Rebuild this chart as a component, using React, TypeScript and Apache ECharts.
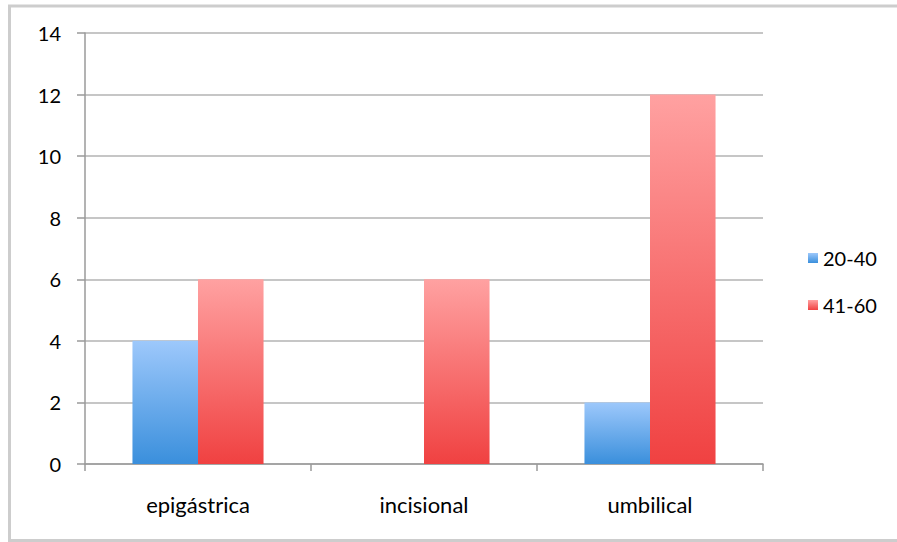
import React, { useEffect, useRef } from "react";
import * as echarts from "echarts";

const categories = ["epigástrica", "incisional", "umbilical"];
const seriesNames = ["20-40", "41-60"];
const values2040 = [4, 0, 2];
const values4160 = [6, 6, 12];
const yTicks = { min: 0, max: 14, interval: 2 };

const FONT = "Lato, 'Open Sans', sans-serif";

export default function App() {
  const ref = useRef<HTMLDivElement>(null);
  useEffect(() => {
    if (!ref.current) return;
    const chart = echarts.init(ref.current, undefined, { renderer: "svg" });
    const blue = new echarts.graphic.LinearGradient(0, 0, 0, 1, [
      { offset: 0, color: "#9dc8fb" },
      { offset: 1, color: "#3a8fdc" },
    ]);
    const red = new echarts.graphic.LinearGradient(0, 0, 0, 1, [
      { offset: 0, color: "#ffa1a1" },
      { offset: 1, color: "#f04141" },
    ]);
    chart.setOption({
      animation: false,
      backgroundColor: "#ffffff",
      textStyle: { fontFamily: FONT },
      graphic: [
        {
          type: "rect",
          shape: { x: 9.5, y: 6, width: 900, height: 534.5 },
          style: { fill: "none", stroke: "#cdcdcd", lineWidth: 3 },
          silent: true,
        },
      ],
      grid: { left: 85, right: 134, top: 33, bottom: 78 },
      legend: {
        orient: "vertical",
        left: 803,
        top: 243,
        itemWidth: 10,
        itemHeight: 10,
        itemGap: 27,
        icon: "rect",
        data: seriesNames,
        textStyle: { fontSize: 20, color: "#000", fontFamily: FONT, padding: [0, 0, 0, 0] },
      },
      xAxis: {
        type: "category",
        data: categories,
        axisLine: { lineStyle: { color: "#9a9a9a", width: 1.5 } },
        axisTick: { show: true, length: 7, lineStyle: { color: "#9a9a9a", width: 1.5 } },
        axisLabel: { fontSize: 22, color: "#000", margin: 29, fontFamily: FONT },
        splitLine: { show: false },
      },
      yAxis: {
        type: "value",
        min: yTicks.min,
        max: yTicks.max,
        interval: yTicks.interval,
        axisLine: { show: true, lineStyle: { color: "#9a9a9a", width: 1.5 } },
        axisTick: { show: true, length: 8, lineStyle: { color: "#9a9a9a", width: 1.5 } },
        axisLabel: { fontSize: 20, color: "#000", margin: 24, fontFamily: FONT },
        splitLine: { lineStyle: { color: "#b3b3b3", width: 1.5 } },
      },
      series: [
        {
          name: seriesNames[0],
          type: "bar",
          data: values2040,
          barGap: "0%",
          barCategoryGap: "42%",
          itemStyle: { color: blue },
        },
        {
          name: seriesNames[1],
          type: "bar",
          data: values4160,
          barGap: "0%",
          barCategoryGap: "42%",
          itemStyle: { color: red },
        },
      ],
    });
    return () => chart.dispose();
  }, []);
  return (
    <div
      ref={ref}
      style={{ position: "absolute", left: 0, top: 0, width: 897, height: 542 }}
    />
  );
}
